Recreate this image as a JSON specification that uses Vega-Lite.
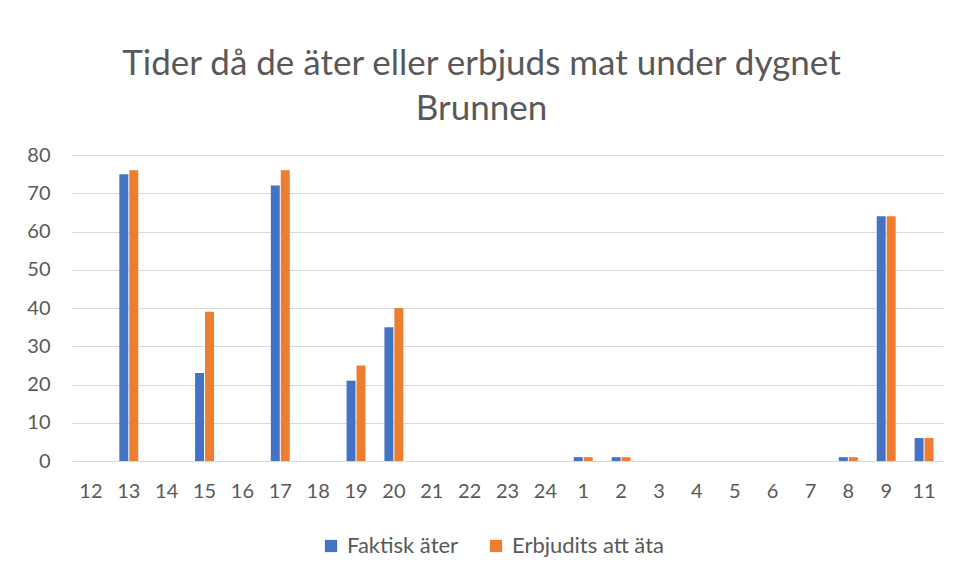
{
  "$schema": "https://vega.github.io/schema/vega-lite/v6.json",
  "width": 871,
  "height": 306,
  "autosize": {"type": "none"},
  "padding": {"left": 72, "top": 155, "right": 16, "bottom": 115},
  "background": "white",
  "title": {
    "text": ["Tider då de äter eller erbjuds mat under dygnet", "Brunnen"],
    "font": "Lato",
    "fontSize": 35,
    "fontWeight": "normal",
    "color": "#595959",
    "anchor": "middle",
    "lineHeight": 45,
    "offset": 18,
    "dx": -26
  },
  "data": {
    "values": [
      {"hour": "12", "series": "Faktisk äter", "value": 0},
      {"hour": "12", "series": "Erbjudits att äta", "value": 0},
      {"hour": "13", "series": "Faktisk äter", "value": 75},
      {"hour": "13", "series": "Erbjudits att äta", "value": 76},
      {"hour": "14", "series": "Faktisk äter", "value": 0},
      {"hour": "14", "series": "Erbjudits att äta", "value": 0},
      {"hour": "15", "series": "Faktisk äter", "value": 23},
      {"hour": "15", "series": "Erbjudits att äta", "value": 39},
      {"hour": "16", "series": "Faktisk äter", "value": 0},
      {"hour": "16", "series": "Erbjudits att äta", "value": 0},
      {"hour": "17", "series": "Faktisk äter", "value": 72},
      {"hour": "17", "series": "Erbjudits att äta", "value": 76},
      {"hour": "18", "series": "Faktisk äter", "value": 0},
      {"hour": "18", "series": "Erbjudits att äta", "value": 0},
      {"hour": "19", "series": "Faktisk äter", "value": 21},
      {"hour": "19", "series": "Erbjudits att äta", "value": 25},
      {"hour": "20", "series": "Faktisk äter", "value": 35},
      {"hour": "20", "series": "Erbjudits att äta", "value": 40},
      {"hour": "21", "series": "Faktisk äter", "value": 0},
      {"hour": "21", "series": "Erbjudits att äta", "value": 0},
      {"hour": "22", "series": "Faktisk äter", "value": 0},
      {"hour": "22", "series": "Erbjudits att äta", "value": 0},
      {"hour": "23", "series": "Faktisk äter", "value": 0},
      {"hour": "23", "series": "Erbjudits att äta", "value": 0},
      {"hour": "24", "series": "Faktisk äter", "value": 0},
      {"hour": "24", "series": "Erbjudits att äta", "value": 0},
      {"hour": "1", "series": "Faktisk äter", "value": 1},
      {"hour": "1", "series": "Erbjudits att äta", "value": 1},
      {"hour": "2", "series": "Faktisk äter", "value": 1},
      {"hour": "2", "series": "Erbjudits att äta", "value": 1},
      {"hour": "3", "series": "Faktisk äter", "value": 0},
      {"hour": "3", "series": "Erbjudits att äta", "value": 0},
      {"hour": "4", "series": "Faktisk äter", "value": 0},
      {"hour": "4", "series": "Erbjudits att äta", "value": 0},
      {"hour": "5", "series": "Faktisk äter", "value": 0},
      {"hour": "5", "series": "Erbjudits att äta", "value": 0},
      {"hour": "6", "series": "Faktisk äter", "value": 0},
      {"hour": "6", "series": "Erbjudits att äta", "value": 0},
      {"hour": "7", "series": "Faktisk äter", "value": 0},
      {"hour": "7", "series": "Erbjudits att äta", "value": 0},
      {"hour": "8", "series": "Faktisk äter", "value": 1},
      {"hour": "8", "series": "Erbjudits att äta", "value": 1},
      {"hour": "9", "series": "Faktisk äter", "value": 64},
      {"hour": "9", "series": "Erbjudits att äta", "value": 64},
      {"hour": "11", "series": "Faktisk äter", "value": 6},
      {"hour": "11", "series": "Erbjudits att äta", "value": 6}
    ]
  },
  "mark": {"type": "bar"},
  "encoding": {
    "x": {
      "field": "hour",
      "type": "nominal",
      "sort": ["12","13","14","15","16","17","18","19","20","21","22","23","24","1","2","3","4","5","6","7","8","9","11"],
      "scale": {"paddingInner": 0.5, "paddingOuter": 0.25},
      "axis": {
        "title": null,
        "labelAngle": 0,
        "ticks": false,
        "domain": false,
        "labelPadding": 20,
        "labelFont": "Lato",
        "labelFontSize": 20,
        "labelColor": "#595959"
      }
    },
    "xOffset": {
      "field": "series",
      "type": "nominal",
      "sort": ["Faktisk äter", "Erbjudits att äta"],
      "scale": {"paddingInner": 0.1}
    },
    "y": {
      "field": "value",
      "type": "quantitative",
      "scale": {"domain": [0, 80]},
      "axis": {
        "title": null,
        "values": [0,10,20,30,40,50,60,70,80],
        "ticks": false,
        "domain": false,
        "labelPadding": 22,
        "labelFont": "Lato",
        "labelFontSize": 20,
        "labelColor": "#595959",
        "gridColor": "#d9d9d9",
        "gridWidth": 1.2
      }
    },
    "color": {
      "field": "series",
      "type": "nominal",
      "sort": ["Faktisk äter", "Erbjudits att äta"],
      "scale": {"domain": ["Faktisk äter", "Erbjudits att äta"], "range": ["#4472C4", "#ED7D31"]},
      "legend": {
        "title": null,
        "orient": "none",
        "legendX": 248,
        "legendY": 380,
        "direction": "horizontal",
        "symbolType": "square",
        "symbolSize": 150,
        "symbolStrokeWidth": 0,
        "labelFont": "Lato",
        "labelFontSize": 22,
        "labelOffset": 5,
        "labelColor": "#595959",
        "columnPadding": 26
      }
    }
  },
  "config": {
    "view": {"stroke": null}
  }
}
